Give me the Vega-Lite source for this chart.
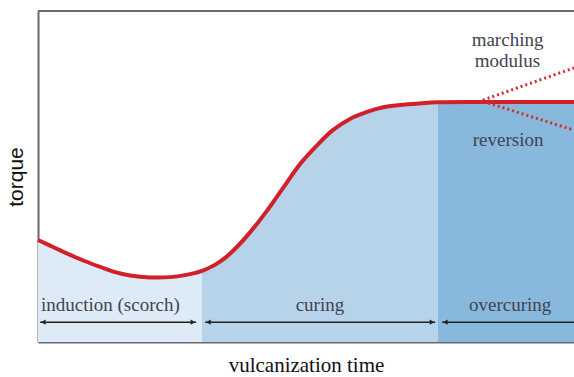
{
  "$schema": "https://vega.github.io/schema/vega-lite/v6.json",
  "width": 536,
  "height": 331,
  "autosize": {"type": "none"},
  "padding": {"left": 38, "top": 11, "right": 0, "bottom": 35},
  "background": "white",
  "config": {
    "view": {"stroke": null},
    "axis": {"grid": false, "ticks": false, "labels": false, "domainColor": "#6a6a6a", "domainWidth": 2}
  },
  "datasets": {
    "fill": [
      {"x": 0, "y": 30.8, "phase": "induction"},
      {"x": 3.2, "y": 28.4, "phase": "induction"},
      {"x": 6.0, "y": 26.3, "phase": "induction"},
      {"x": 8.8, "y": 24.4, "phase": "induction"},
      {"x": 11.6, "y": 22.7, "phase": "induction"},
      {"x": 14.4, "y": 21.1, "phase": "induction"},
      {"x": 17.2, "y": 20.1, "phase": "induction"},
      {"x": 20.9, "y": 19.5, "phase": "induction"},
      {"x": 24.6, "y": 19.6, "phase": "induction"},
      {"x": 27.4, "y": 20.2, "phase": "induction"},
      {"x": 30.6, "y": 21.5, "phase": "induction"},
      {"x": 30.6, "y": 21.5, "phase": "curing"},
      {"x": 33.0, "y": 23.3, "phase": "curing"},
      {"x": 34.9, "y": 25.4, "phase": "curing"},
      {"x": 37.1, "y": 28.7, "phase": "curing"},
      {"x": 39.6, "y": 33.2, "phase": "curing"},
      {"x": 42.7, "y": 39.6, "phase": "curing"},
      {"x": 45.7, "y": 46.5, "phase": "curing"},
      {"x": 48.9, "y": 53.8, "phase": "curing"},
      {"x": 52.1, "y": 59.5, "phase": "curing"},
      {"x": 55.0, "y": 64.0, "phase": "curing"},
      {"x": 58.2, "y": 67.4, "phase": "curing"},
      {"x": 61.4, "y": 69.5, "phase": "curing"},
      {"x": 64.4, "y": 70.9, "phase": "curing"},
      {"x": 67.5, "y": 71.6, "phase": "curing"},
      {"x": 71.3, "y": 72.1, "phase": "curing"},
      {"x": 74.6, "y": 72.4, "phase": "curing"},
      {"x": 74.6, "y": 72.4, "phase": "overcuring"},
      {"x": 82.5, "y": 72.5, "phase": "overcuring"},
      {"x": 100, "y": 72.5, "phase": "overcuring"}
    ],
    "curve": [
      {"x": 0, "y": 30.8},
      {"x": 3.2, "y": 28.4},
      {"x": 6.0, "y": 26.3},
      {"x": 8.8, "y": 24.4},
      {"x": 11.6, "y": 22.7},
      {"x": 14.4, "y": 21.1},
      {"x": 17.2, "y": 20.1},
      {"x": 20.9, "y": 19.5},
      {"x": 24.6, "y": 19.6},
      {"x": 27.4, "y": 20.2},
      {"x": 30.6, "y": 21.5},
      {"x": 33.0, "y": 23.3},
      {"x": 34.9, "y": 25.4},
      {"x": 37.1, "y": 28.7},
      {"x": 39.6, "y": 33.2},
      {"x": 42.7, "y": 39.6},
      {"x": 45.7, "y": 46.5},
      {"x": 48.9, "y": 53.8},
      {"x": 52.1, "y": 59.5},
      {"x": 55.0, "y": 64.0},
      {"x": 58.2, "y": 67.4},
      {"x": 61.4, "y": 69.5},
      {"x": 64.4, "y": 70.9},
      {"x": 67.5, "y": 71.6},
      {"x": 71.3, "y": 72.1},
      {"x": 74.6, "y": 72.4},
      {"x": 82.5, "y": 72.5},
      {"x": 100, "y": 72.5}
    ],
    "dots": [
      {"x": 83.0, "y": 73.1, "branch": "marching"},
      {"x": 100, "y": 82.8, "branch": "marching"},
      {"x": 84.0, "y": 72.2, "branch": "reversion"},
      {"x": 100, "y": 64.0, "branch": "reversion"}
    ],
    "arrows": [
      {"x": 0.4, "x2": 29.5, "y": 6.0},
      {"x": 31.2, "x2": 74.1, "y": 6.0},
      {"x": 75.4, "x2": 100, "y": 6.0}
    ],
    "heads": [
      {"x": 1.0, "y": 6.0, "dir": "left"},
      {"x": 28.9, "y": 6.0, "dir": "right"},
      {"x": 31.8, "y": 6.0, "dir": "left"},
      {"x": 73.5, "y": 6.0, "dir": "right"},
      {"x": 76.0, "y": 6.0, "dir": "left"}
    ],
    "labels": [
      {"x": 13.5, "y": 9.4, "text": "induction (scorch)"},
      {"x": 52.6, "y": 9.4, "text": "curing"},
      {"x": 88.1, "y": 9.4, "text": "overcuring"},
      {"x": 87.6, "y": 89.4, "text": "marching"},
      {"x": 87.6, "y": 83.1, "text": "modulus"},
      {"x": 87.7, "y": 59.2, "text": "reversion"}
    ],
    "frame": [
      {"top": 100}
    ]
  },
  "layer": [
    {
      "data": {"name": "fill"},
      "mark": {"type": "area", "interpolate": "catmull-rom", "opacity": 1},
      "encoding": {
        "x": {"field": "x", "type": "quantitative", "scale": {"domain": [0, 100], "nice": false},
          "axis": {"orient": "bottom", "title": "vulcanization time", "titleFont": "Liberation Serif", "titleFontSize": 21, "titleFontWeight": "normal", "titleColor": "#111", "titlePadding": 12}},
        "y": {"field": "y", "type": "quantitative", "stack": null, "scale": {"domain": [0, 100], "nice": false},
          "axis": {"orient": "left", "title": "torque", "titleFont": "Liberation Sans", "titleFontSize": 21, "titleFontWeight": "normal", "titleColor": "#111", "titlePadding": 12}},
        "color": {"field": "phase", "type": "nominal", "legend": null,
          "scale": {"domain": ["induction", "curing", "overcuring"], "range": ["#dcebf6", "#b6d3ea", "#88b8db"]}}
      }
    },
    {
      "data": {"name": "frame"},
      "mark": {"type": "rule", "color": "#6a6a6a", "strokeWidth": 2},
      "encoding": {
        "y": {"field": "top", "type": "quantitative"}
      }
    },
    {
      "data": {"name": "curve"},
      "mark": {"type": "line", "interpolate": "catmull-rom", "color": "#d0202a", "strokeWidth": 4},
      "encoding": {
        "x": {"field": "x", "type": "quantitative"},
        "y": {"field": "y", "type": "quantitative"}
      }
    },
    {
      "data": {"name": "dots"},
      "mark": {"type": "line", "color": "#d42a2f", "strokeWidth": 3, "strokeDash": [2, 3]},
      "encoding": {
        "x": {"field": "x", "type": "quantitative"},
        "y": {"field": "y", "type": "quantitative"},
        "detail": {"field": "branch"}
      }
    },
    {
      "data": {"name": "arrows"},
      "mark": {"type": "rule", "color": "#222", "strokeWidth": 1.5},
      "encoding": {
        "x": {"field": "x", "type": "quantitative"},
        "x2": {"field": "x2"},
        "y": {"field": "y", "type": "quantitative"}
      }
    },
    {
      "data": {"name": "heads"},
      "mark": {"type": "point", "filled": true, "color": "#222", "size": 28, "opacity": 1},
      "encoding": {
        "x": {"field": "x", "type": "quantitative"},
        "y": {"field": "y", "type": "quantitative"},
        "shape": {"field": "dir", "type": "nominal", "legend": null,
          "scale": {"domain": ["left", "right"], "range": ["triangle-left", "triangle-right"]}}
      }
    },
    {
      "data": {"name": "labels"},
      "mark": {"type": "text", "font": "Liberation Serif", "fontSize": 19, "color": "#434352", "align": "center", "baseline": "alphabetic"},
      "encoding": {
        "x": {"field": "x", "type": "quantitative"},
        "y": {"field": "y", "type": "quantitative"},
        "text": {"field": "text"}
      }
    }
  ]
}
